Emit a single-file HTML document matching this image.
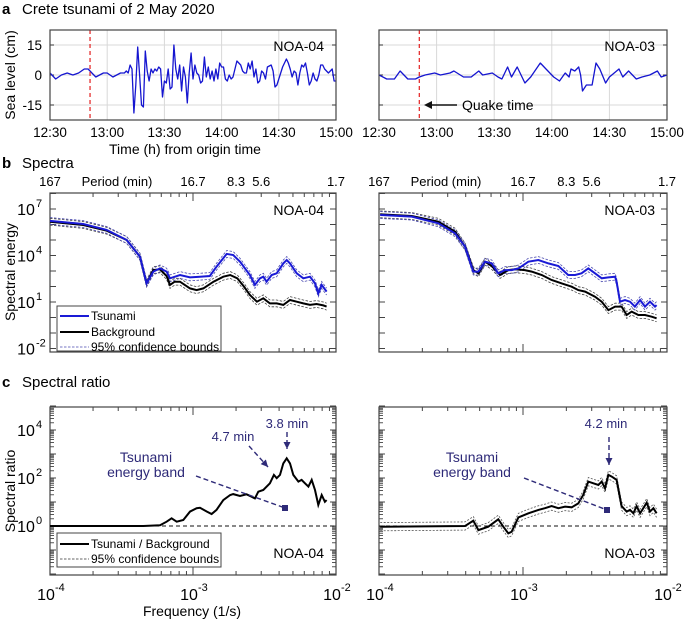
<!DOCTYPE html>
<html><head><meta charset="utf-8"><style>
html,body{margin:0;padding:0;background:#fff;}
svg{display:block;font-family:"Liberation Sans",Arial,sans-serif;}
</style></head><body>
<svg id="fig" width="685" height="621" viewBox="0 0 685 621"></svg>
<script>
// ---------- data ----------
const timeNOA04 = [0,3,6,9,12,15,18,20,22,24,26,28,30,33,35,37,39,40,41,42,43,44,45,46,47,48,49,50,51,52,53,54,55,56,57,58,59,60,61,62,63,64,65,66,67,68,69,70,71,72,73,74,75,76,77,78,79,80,81,82,83,84,85,86,87,88,89,90,91,92,93,94,95,96,98,100,101,102,103,104,105,106,107,108,109,110,111,112,113,114,116,117,118,119,120,122,124,125,126,127,128,129,130,131,132,133,134,135,136,137,138,139,140,141,142,143,144,146,148,149,150];
const levelNOA04 = [1,-2,0,1,0,1,3,3,1,-1,0,1,1,-1,0,1,1,2,1,5,3,-19,-5,14,0,-15,-16,12,2,-3,3,1,3,2,4,3,-11,-3,-4,3,-7,-6,15,3,-2,5,-8,4,-1,-14,1,11,-2,5,1,0,-4,-3,9,-1,4,-2,2,-3,3,-2,6,4,4,-2,-3,0,-2,-1,7,5,2,1,1,6,3,7,-1,3,-4,-3,2,1,-2,4,5,2,-6,-5,-2,4,8,6,3,-1,2,1,-5,1,5,4,6,1,-5,-3,1,-2,-3,0,5,5,3,1,3,-3,-3];
const timeNOA03 = [0,4,8,11,15,19,21,24,29,32,37,39,44,48,52,54,59,62,64,67,69,72,76,79,84,87,91,94,97,99,100,102,104,105,106,108,111,113,115,118,120,125,127,130,134,137,141,145,147,150];
const levelNOA03 = [0,-2,-2,2,-2,-2,-1,0,1,0,1,2,-1,-1,2,0,1,-1,-2,4,-1,4,-4,-1,6,3,-1,-3,1,-1,3,2,4,0,-8,-5,-5,6,3,-4,-1,3,-1,2,-2,-1,0,2,-1,0];
const quakeTime = 21; // minutes after 12:30
const timeTickLabels = ["12:30","13:00","13:30","14:00","14:30","15:00"];
const seaTicks = [-15,0,15];

// spectra (frequency in mHz, log10 energy)
const freqL = [0.100,0.171,0.249,0.344,0.426,0.474,0.528,0.588,0.654,0.690,0.811,0.953,1.12,1.31,1.46,1.72,1.91,2.13,2.50,2.71,2.94,3.10,3.27,3.55,3.85,4.28,4.52,4.77,5.31,5.91,6.58,7.13,7.52,7.94,8.60];
const tsunamiL = [6.23,6.03,5.65,5.00,3.92,2.20,2.96,3.17,2.96,2.53,2.74,2.59,2.63,2.68,3.28,4.10,4.03,3.60,2.74,2.10,2.53,2.63,2.31,2.74,2.85,3.49,3.71,3.49,2.85,2.53,2.63,2.20,1.56,2.10,1.67];
const freqLb = [0.100,0.171,0.249,0.344,0.426,0.474,0.528,0.588,0.654,0.690,0.744,0.811,0.953,1.06,1.18,1.39,1.63,1.82,2.04,2.27,2.50,2.80,3.10,3.45,3.85,4.28,4.77,5.31,5.91,6.58,7.32,8.15,8.60];
const backgroundL = [6.18,5.97,5.60,5.00,3.92,2.20,3.06,3.11,2.68,2.10,2.31,2.31,1.88,1.77,1.88,2.31,2.63,2.74,2.53,2.00,1.45,1.02,1.24,0.91,0.91,0.81,1.13,1.02,0.91,0.81,0.87,0.78,0.70];
const freqR = [0.102,0.169,0.258,0.337,0.396,0.452,0.490,0.545,0.606,0.674,0.750,0.834,0.929,1.09,1.28,1.50,1.76,2.06,2.30,2.55,2.84,3.16,3.52,3.92,4.36,4.47,4.72,5.11,5.53,5.99,6.50,7.03,7.62,8.26,8.47];
const tsunamiR = [6.61,6.51,6.08,5.43,4.57,2.96,2.96,3.60,3.49,2.85,3.06,3.06,3.17,3.60,3.71,3.49,3.32,2.74,2.74,2.85,3.17,2.85,2.53,2.59,2.63,2.31,1.02,1.13,1.02,0.70,1.13,0.70,1.02,0.70,0.80];
const freqRb = [0.102,0.169,0.258,0.337,0.396,0.452,0.490,0.545,0.606,0.692,0.791,0.880,1.03,1.15,1.35,1.58,1.86,2.18,2.42,2.70,3.16,3.52,3.92,4.36,4.84,5.25,5.69,6.32,7.03,7.83,8.47];
const backgroundR = [6.66,6.55,6.18,5.54,4.57,3.06,2.85,3.60,3.32,2.74,3.06,3.11,3.06,2.96,2.74,2.42,2.20,1.99,1.77,1.67,1.34,1.02,0.48,0.70,0.70,0.16,0.38,0.16,0.16,0.05,-0.05];
const energyCI = 0.22; // half-width of confidence band in decades

// spectral ratio (frequency mHz, log10 ratio)
const freqRatioL = [0.100,0.449,0.588,0.654,0.709,0.769,0.855,0.953,1.06,1.12,1.25,1.35,1.46,1.63,1.82,1.91,2.13,2.37,2.57,2.71,2.86,3.10,3.45,3.68,3.85,4.06,4.28,4.52,4.77,5.03,5.46,5.75,6.07,6.41,6.76,7.13,7.52,7.94,8.37,8.60];
const ratioL = [0,0,0.03,0.18,0.32,0.18,0.25,0.60,0.74,0.76,0.60,0.50,0.67,1.08,1.29,1.33,1.25,1.32,1.22,1.15,1.43,1.50,1.78,2.13,1.99,2.13,2.61,2.82,2.61,2.13,1.85,1.92,1.78,1.64,1.92,1.50,0.88,1.29,1.01,1.08];
const freqRatioR = [0.102,0.396,0.452,0.490,0.574,0.674,0.730,0.791,0.834,0.929,1.09,1.28,1.42,1.58,1.76,1.96,2.18,2.42,2.62,2.84,3.08,3.34,3.52,3.71,3.92,4.13,4.47,4.84,5.25,5.53,5.84,6.15,6.50,6.85,7.23,7.62,8.04,8.47];
const ratioR = [-0.03,0,0.22,-0.17,-0.03,0.28,-0.03,-0.31,-0.24,0.36,0.53,0.67,0.74,0.83,0.74,0.81,0.78,0.94,1.29,1.85,1.78,1.71,1.85,1.57,2.13,2.06,1.92,0.83,0.60,0.67,0.53,0.83,0.53,0.74,0.97,0.60,0.74,0.53];
const ratioCI = 0.17;
const periodLabels = ["167","16.7","8.3","5.6","1.7"];
const periodFreqs = [0.1,1,2,3,10]; // mHz

// ---------- helpers ----------
const NS = "http://www.w3.org/2000/svg";
const svg = document.getElementById("fig");
function mk(tag, attrs, parent, text){
  const e = document.createElementNS(NS, tag);
  for (const k in attrs) e.setAttribute(k, attrs[k]);
  if (text !== undefined) e.textContent = text;
  (parent || svg).appendChild(e);
  return e;
}
function grp(name){
  const g = mk("g", {});
  
  
  return g;
}
const panels = [{x0:50,x1:336},{x0:379,x1:667}];
const xf = (p, f) => p.x0 + Math.log10(f/0.1) * (p.x1 - p.x0) / 2;
const xt = (p, t) => p.x0 + t / 150 * (p.x1 - p.x0);
const ySea = v => 75 - v * 2;
const yE = l => 302 - (l - 1) * 15.5;
const yR = l => 526 - l * 24;
function pathD(xs, ys){ return xs.map((x,i)=>(i?"L":"M")+x.toFixed(1)+","+ys[i].toFixed(1)).join(""); }
const ANN = "#2e2a78";

// ---------- panel headers ----------
let g = grp("panel-a-title");
mk("text",{x:2,y:14,"font-size":15,"font-weight":"bold"},g,"a");
mk("text",{x:22,y:14,"font-size":15},g,"Crete tsunami of 2 May 2020");
g = grp("panel-b-title");
mk("text",{x:2,y:168,"font-size":15,"font-weight":"bold"},g,"b");
mk("text",{x:22,y:168,"font-size":15},g,"Spectra");
g = grp("panel-c-title");
mk("text",{x:2,y:387,"font-size":15,"font-weight":"bold"},g,"c");
mk("text",{x:22,y:387,"font-size":15},g,"Spectral ratio");

// ---------- panel a ----------
[[timeNOA04,levelNOA04,"NOA-04"],[timeNOA03,levelNOA03,"NOA-03"]].forEach((s,pi)=>{
  const p = panels[pi];
  const ga = grp("sea-level-plot-"+s[2].toLowerCase());
  for (let i=0;i<6;i++){
    const x = xt(p, i*30);
    mk("line",{x1:x,y1:30,x2:x,y2:120,stroke:"#d8d8d8","stroke-width":1},ga);
    const lab = mk("text",{x:x,y:137,"font-size":13.5,"text-anchor":"middle"},ga,timeTickLabels[i]);
    
  }
  seaTicks.forEach(v=>{
    mk("line",{x1:p.x0,y1:ySea(v),x2:p.x1,y2:ySea(v),stroke:"#d8d8d8","stroke-width":1},ga);
    mk("line",{x1:p.x0,y1:ySea(v),x2:p.x0+4,y2:ySea(v),stroke:"#333"},ga);
    mk("line",{x1:p.x1,y1:ySea(v),x2:p.x1-4,y2:ySea(v),stroke:"#333"},ga);
    if (pi===0){
      const t = mk("text",{x:p.x0-8,y:ySea(v)+5,"font-size":13.5,"text-anchor":"end"},ga,String(v));
      
    }
  });
  const line = mk("path",{d:pathD(s[0].map(t=>xt(p,t)), s[1].map(ySea)),fill:"none",stroke:"#1515d0","stroke-width":1.3,"stroke-linejoin":"round"},ga);
  
  const qx = xt(p, quakeTime);
  const q = mk("line",{x1:qx,y1:30,x2:qx,y2:120,stroke:"#e53030","stroke-width":1.3,"stroke-dasharray":"4,3"},ga);
  
  mk("rect",{x:p.x0,y:30,width:p.x1-p.x0,height:90,fill:"none",stroke:"#444","stroke-width":1.2},ga);
  const st = mk("text",{x:p.x1-12,y:51,"font-size":14,"text-anchor":"end"},ga,s[2]);
  
});
g = grp("sea-level-axis-title");
mk("text",{transform:"translate(15,75) rotate(-90)","font-size":14,"text-anchor":"middle"},g,"Sea level (cm)");
mk("text",{x:185,y:154,"font-size":14,"text-anchor":"middle"},g,"Time (h) from origin time");
g = grp("quake-time-annotation");
mk("line",{x1:457,y1:105,x2:430,y2:105,stroke:"#111","stroke-width":1.6},g);
mk("polygon",{points:"424,105 432,101 432,109",fill:"#111"},g);
mk("text",{x:462,y:110,"font-size":14},g,"Quake time");

// ---------- log axis frame helper ----------
function logFrame(p, gg, top, bot, yFn, yDecades, labeled, labelDecs, minorY){
  mk("rect",{x:p.x0,y:top,width:p.x1-p.x0,height:bot-top,fill:"none",stroke:"#444","stroke-width":1.2},gg);
  for (let d=0; d<2; d++) for (let m=1;m<=9;m++){
    const f = 0.1*Math.pow(10,d)*m;
    const x = xf(p,f);
    const len = m===1 ? 8 : 4;
    if (m===1 && d===0) continue;
    mk("line",{x1:x,y1:top,x2:x,y2:top+len,stroke:"#444"},gg);
    mk("line",{x1:x,y1:bot,x2:x,y2:bot-len,stroke:"#444"},gg);
  }
  yDecades.forEach(dc=>{
    const y = yFn(dc);
    mk("line",{x1:p.x0,y1:y,x2:p.x0+6,y2:y,stroke:"#444"},gg);
    mk("line",{x1:p.x1,y1:y,x2:p.x1-6,y2:y,stroke:"#444"},gg);
    if (minorY) for (let m=2;m<=9;m++){
      const ym = yFn(dc+Math.log10(m));
      if (ym<top+1||ym>bot-1) continue;
      mk("line",{x1:p.x0,y1:ym,x2:p.x0+4,y2:ym,stroke:"#444","stroke-width":0.9},gg);
      mk("line",{x1:p.x1,y1:ym,x2:p.x1-4,y2:ym,stroke:"#444","stroke-width":0.9},gg);
    }
    if (labeled && labelDecs.includes(dc)){
      const t = mk("text",{x:p.x0-24,y:yFn(dc)+6,"font-size":16,"text-anchor":"middle"},gg,"10");
      
      mk("text",{x:p.x0-14,y:yFn(dc)-2,"font-size":11},gg,String(dc));
    }
  });
}

// ---------- panel b ----------
[[freqL,tsunamiL,freqLb,backgroundL,"NOA-04"],[freqR,tsunamiR,freqRb,backgroundR,"NOA-03"]].forEach((s,pi)=>{
  const p = panels[pi];
  const gb = grp("spectra-plot-"+s[4].toLowerCase());
  logFrame(p, gb, 193, 352, yE, [-2,-1,0,1,2,3,4,5,6,7,8], pi===0, [-2,1,4,7], false);
  periodLabels.forEach((lab,i)=>{
    const t = mk("text",{x:xf(p,periodFreqs[i]),y:186,"font-size":13,"text-anchor":"middle"},gb,lab);
    
  });
  mk("text",{x:p.x0+67,y:186,"font-size":13,"text-anchor":"middle"},gb,"Period (min)");
  const xsT = s[0].map(f=>xf(p,f)), xsB = s[2].map(f=>xf(p,f));
  [[xsB,s[3],"#444"],[xsT,s[1],"#4a4ab0"]].forEach(c=>{
    [1,-1].forEach(sg=>{
      const b = mk("path",{d:pathD(c[0], c[1].map(v=>yE(v+sg*energyCI))),fill:"none",stroke:c[2],"stroke-width":0.8,"stroke-dasharray":"2.5,1.5"},gb);
      
    });
  });
  const bl = mk("path",{d:pathD(xsB, s[3].map(yE)),fill:"none",stroke:"#000","stroke-width":2},gb);
  
  const tl = mk("path",{d:pathD(xsT, s[1].map(yE)),fill:"none",stroke:"#1a1ad6","stroke-width":2},gb);
  
  const st = mk("text",{x:p.x1-12,y:215,"font-size":14,"text-anchor":"end"},gb,s[4]);
  
});
g = grp("spectral-energy-axis-title");
mk("text",{transform:"translate(15,272) rotate(-90)","font-size":14,"text-anchor":"middle"},g,"Spectral energy");
g = grp("spectra-legend");
mk("rect",{x:57,y:306,width:164,height:45,fill:"#fff",stroke:"#444","stroke-width":1},g);
mk("line",{x1:60,y1:316,x2:89,y2:316,stroke:"#1a1ad6","stroke-width":2},g);
mk("text",{x:91,y:320,"font-size":12},g,"Tsunami");
mk("line",{x1:60,y1:332,x2:89,y2:332,stroke:"#000","stroke-width":2},g);
mk("text",{x:91,y:336,"font-size":12},g,"Background");
mk("line",{x1:60,y1:347,x2:89,y2:347,stroke:"#4a4ab0","stroke-width":0.8,"stroke-dasharray":"2.5,1.5"},g);
mk("text",{x:91,y:351,"font-size":12},g,"95% confidence bounds");

// ---------- panel c ----------
[[freqRatioL,ratioL,"NOA-04",false],[freqRatioR,ratioR,"NOA-03",true]].forEach((s,pi)=>{
  const p = panels[pi];
  const gc = grp("spectral-ratio-plot-"+s[2].toLowerCase());
  logFrame(p, gc, 407, 575, yR, [-2,-1,0,1,2,3,4,5], pi===0, [0,2,4], true);
  mk("line",{x1:p.x0,y1:yR(0),x2:p.x1,y2:yR(0),stroke:"#111","stroke-width":1.1,"stroke-dasharray":"4,3"},gc);
  const xs = s[0].map(f=>xf(p,f));
  if (s[3]) [1,-1].forEach(sg=>{
    const b = mk("path",{d:pathD(xs, s[1].map(v=>yR(v+sg*ratioCI))),fill:"none",stroke:"#555","stroke-width":0.8,"stroke-dasharray":"2,1.5"},gc);
    
  });
  const rl = mk("path",{d:pathD(xs, s[1].map(yR)),fill:"none",stroke:"#000","stroke-width":2},gc);
  
  ["-4","-3","-2"].forEach((e,i)=>{
    const x = p.x0 + i*(p.x1-p.x0)/2;
    const t = mk("text",{x:x-4,y:600,"font-size":16,"text-anchor":"middle"},gc,"10");
    
    mk("text",{x:x+5,y:591,"font-size":11},gc,e);
  });
  const st = mk("text",{x:p.x1-12,y:558,"font-size":14,"text-anchor":"end"},gc,s[2]);
  
});
g = grp("spectral-ratio-axis-title");
mk("text",{transform:"translate(15,491) rotate(-90)","font-size":14,"text-anchor":"middle"},g,"Spectral ratio");
mk("text",{x:192,y:616,"font-size":14,"text-anchor":"middle"},g,"Frequency (1/s)");
g = grp("ratio-legend");
mk("rect",{x:57,y:533,width:164,height:34,fill:"#fff",stroke:"#444","stroke-width":1},g);
mk("line",{x1:60,y1:544,x2:89,y2:544,stroke:"#000","stroke-width":2},g);
mk("text",{x:91,y:548,"font-size":12},g,"Tsunami / Background");
mk("line",{x1:60,y1:559,x2:89,y2:559,stroke:"#333","stroke-width":0.8,"stroke-dasharray":"2.5,1.5"},g);
mk("text",{x:91,y:563,"font-size":12},g,"95% confidence bounds");

// annotations
function arrow(gg,x1,y1,x2,y2,sq){
  mk("line",{x1:x1,y1:y1,x2:x2,y2:y2,stroke:ANN,"stroke-width":1.4,"stroke-dasharray":"5,3"},gg);
  if (sq){ mk("rect",{x:x2-3,y:y2-3,width:6,height:6,fill:ANN},gg); return; }
  const a = Math.atan2(y2-y1,x2-x1), L=7, W=3.5;
  const bx = x2-L*Math.cos(a), by = y2-L*Math.sin(a);
  mk("polygon",{points:`${x2},${y2} ${bx-W*Math.sin(a)},${by+W*Math.cos(a)} ${bx+W*Math.sin(a)},${by-W*Math.cos(a)}`,fill:ANN},gg);
}
g = grp("annotation-3-8-min");
mk("text",{x:287,y:428,"font-size":13,fill:ANN,"text-anchor":"middle"},g,"3.8 min");
arrow(g,287,432,287,449,false);
g = grp("annotation-4-7-min");
mk("text",{x:233,y:441,"font-size":13,fill:ANN,"text-anchor":"middle"},g,"4.7 min");
arrow(g,249,446,268,467,false);
g = grp("annotation-energy-band-left");
mk("text",{x:146,y:462,"font-size":14,fill:ANN,"text-anchor":"middle"},g,"Tsunami");
mk("text",{x:146,y:477,"font-size":14,fill:ANN,"text-anchor":"middle"},g,"energy band");
arrow(g,196,476,285,508,true);
g = grp("annotation-4-2-min");
mk("text",{x:606,y:428,"font-size":13,fill:ANN,"text-anchor":"middle"},g,"4.2 min");
arrow(g,609,437,609,465,false);
g = grp("annotation-energy-band-right");
mk("text",{x:472,y:462,"font-size":14,fill:ANN,"text-anchor":"middle"},g,"Tsunami");
mk("text",{x:472,y:477,"font-size":14,fill:ANN,"text-anchor":"middle"},g,"energy band");
arrow(g,524,478,607,510,true);
</script>
</body></html>
